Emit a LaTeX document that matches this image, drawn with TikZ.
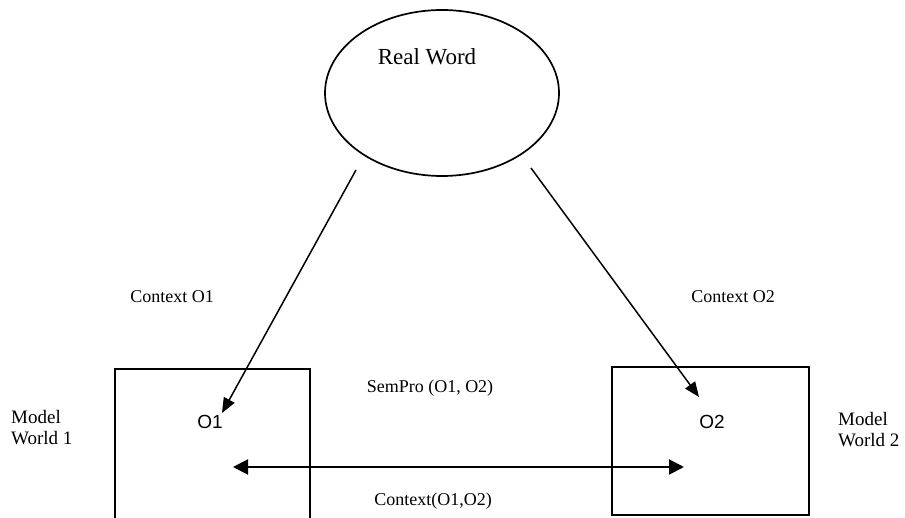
\documentclass[tikz,border=0pt]{standalone}
\usepackage{fontspec}
\setmainfont{Liberation Serif}
\newfontfamily\osans{Liberation Sans}
\usetikzlibrary{arrows.meta,shapes.geometric}
\tikzset{
  lbl/.style={inner sep=0pt, font=\fontsize{18}{20}\selectfont},
  objlbl/.style={inner sep=0pt, font=\osans\fontsize{19}{21}\selectfont},
  conn/.style={line width=1.5pt, -{Triangle[length=15pt,width=12pt]}},
  bothconn/.style={line width=2pt, {Triangle[length=15pt,width=15pt]}-{Triangle[length=15pt,width=15pt]}},
  boxline/.style={line width=1.6pt}
}
\begin{document}
\begin{tikzpicture}[x=1pt,y=-1pt]
\path[use as bounding box] (0,0) rectangle (905,518);
\clip (0,0) rectangle (905,518);
% real world ellipse
\node[draw, ellipse, line width=1.7pt, minimum width=234pt, minimum height=166pt, inner sep=0pt] (rw) at (442,93) {};
\node[inner sep=0pt, font=\fontsize{23}{25}\selectfont] (rwt) at (427,57) {Real Word};
% model world boxes
\coordinate (b1bl) at (115,530);
\coordinate (b1tl) at (115,369);
\coordinate (b1tr) at (310,369);
\coordinate (b1br) at (310,530);
\draw[boxline] (b1bl) -- (b1tl) -- (b1tr) -- (b1br);
\node[draw, boxline, minimum width=197pt, minimum height=148pt, inner sep=0pt] (box2) at (710.5,441) {};
% objects
\node[objlbl] (o1) at (210,422) {O1};
\node[objlbl] (o2) at (712,422) {O2};
% side labels
\node[lbl, align=left, anchor=west, font=\fontsize{19}{21}\selectfont] (mw1) at (11,428) {Model\\World 1};
\node[lbl, align=left, anchor=west, font=\fontsize{19}{21}\selectfont] (mw2) at (838,430) {Model\\World 2};
% context labels
\node[lbl] (c1) at (172,297) {Context O1};
\node[lbl] (c2) at (733,297) {Context O2};
\node[lbl] (sem) at (430,388) {SemPro (O1, O2)};
\node[lbl] (c12) at (433,501) {Context(O1,O2)};
% connectors
\coordinate (s1) at (356,170);
\coordinate (t1) at (222,413);
\coordinate (s2) at (531,168);
\coordinate (t2) at (699,397);
\coordinate (h1) at (233,467);
\coordinate (h2) at (684,467);
\draw[conn] (s1) -- (t1);
\draw[conn] (s2) -- (t2);
\draw[bothconn] (h1) -- (h2);
\end{tikzpicture}
\end{document}
